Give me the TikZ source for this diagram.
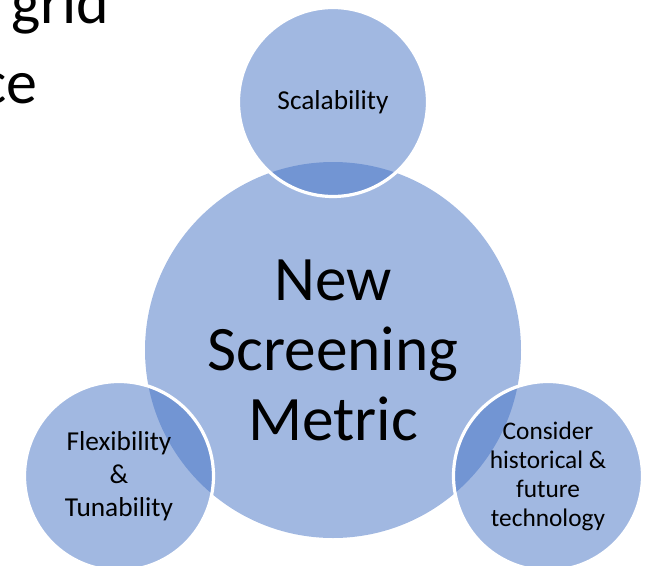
\documentclass[tikz,border=0pt]{standalone}
\usepackage{fontspec}
\setmainfont{Carlito}
\definecolor{vennblue}{HTML}{4472C4}
\begin{document}
\begin{tikzpicture}[x=0.75pt,y=-0.75pt,
  bubble/.style={circle,inner sep=0,fill=vennblue,fill opacity=0.5,text opacity=1,align=center},
  smallbubble/.style={bubble,draw=white,draw opacity=1,line width=2.4pt,minimum size=141.75pt,font=\fontsize{20.5}{24.75}\selectfont},
  bigbubble/.style={bubble,minimum size=282pt,font=\fontsize{47.5}{52.5}\selectfont},
  slidetext/.style={inner sep=0,font=\fontsize{46.5}{50}\selectfont}]
  \useasboundingbox (0,0) rectangle (654,565);
  \clip (0,0) rectangle (654,565);
  % slide text behind the diagram
  \node[slidetext,anchor=base west] (grid) at (11,23) {grid};
  \node[slidetext,anchor=base east] (ce) at (38,103) {ce};
  % centre circle
  \node[bigbubble] (metric) at (333,350) {New\\Screening\\Metric};
  % outer circles
  \node[smallbubble] (scal) at (333,102) {Scalability};
  \node[smallbubble] (flex) at (119,476) {Flexibility\\\&\\Tunability};
  \node[smallbubble,font=\fontsize{19}{21.75}\selectfont] (tech) at (548,476) {Consider\\historical \&\\future\\technology};
\end{tikzpicture}
\end{document}
